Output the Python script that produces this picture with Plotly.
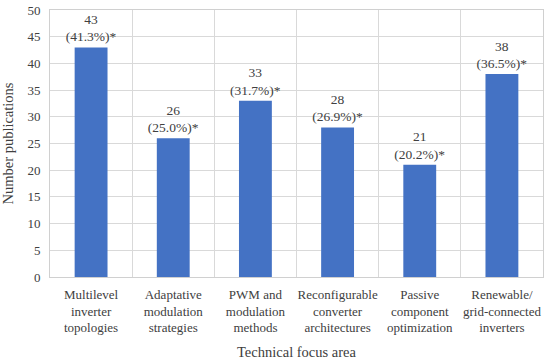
import plotly.graph_objects as go

categories = ["Multilevel<br>inverter<br>topologies", "Adaptative<br>modulation<br>strategies",
              "PWM and<br>modulation<br>methods", "Reconfigurable<br>converter<br>architectures",
              "Passive<br>component<br>optimization", "Renewable/<br>grid-connected<br>inverters"]
counts = [43, 26, 33, 28, 21, 38]
percents = ["41.3%", "25.0%", "31.7%", "26.9%", "20.2%", "36.5%"]

labels = [f"{c}<br>({p})*" for c, p in zip(counts, percents)]

font_family = "Liberation Serif"

fig = go.Figure(go.Bar(
    x=categories, y=counts, text=labels, textposition="outside",
    constraintext="none",
    textfont=dict(family=font_family, size=13.5, color="#404040"),
    marker=dict(color="#4472C4", line=dict(width=0)),
    width=0.4, cliponaxis=False,
))

fig.update_layout(
    width=550, height=361,
    margin=dict(l=50, r=7, t=10, b=84),
    plot_bgcolor="white", paper_bgcolor="white",
    showlegend=False,
    font=dict(family=font_family, size=13, color="#404040"),
)
fig.update_xaxes(
    tickson="boundaries", showgrid=True, gridcolor="#d9d9d9", gridwidth=1,
    showline=True, linecolor="#d0d0d0", linewidth=1, mirror=True,
    ticks="", tickangle=0, automargin=False, ticklabelstandoff=5,
    tickfont=dict(family=font_family, size=13, color="#404040"),
    title=dict(text="Technical focus area", font=dict(family=font_family, size=14.5, color="#404040"), standoff=12),
)
fig.update_yaxes(
    range=[0, 50], dtick=5, showgrid=True, gridcolor="#d9d9d9", gridwidth=1,
    showline=True, linecolor="#d0d0d0", linewidth=1, mirror=True,
    zeroline=False, ticks="", automargin=False, ticklabelstandoff=6,
    ticklabeloverflow="allow",
    tickfont=dict(family=font_family, size=13, color="#404040"),
    title=dict(text="Number publications", font=dict(family=font_family, size=14.5, color="#404040"), standoff=11),
)

fig.write_html("out.html", config={"displayModeBar": False},
               post_script="document.body.style.margin='0';")
